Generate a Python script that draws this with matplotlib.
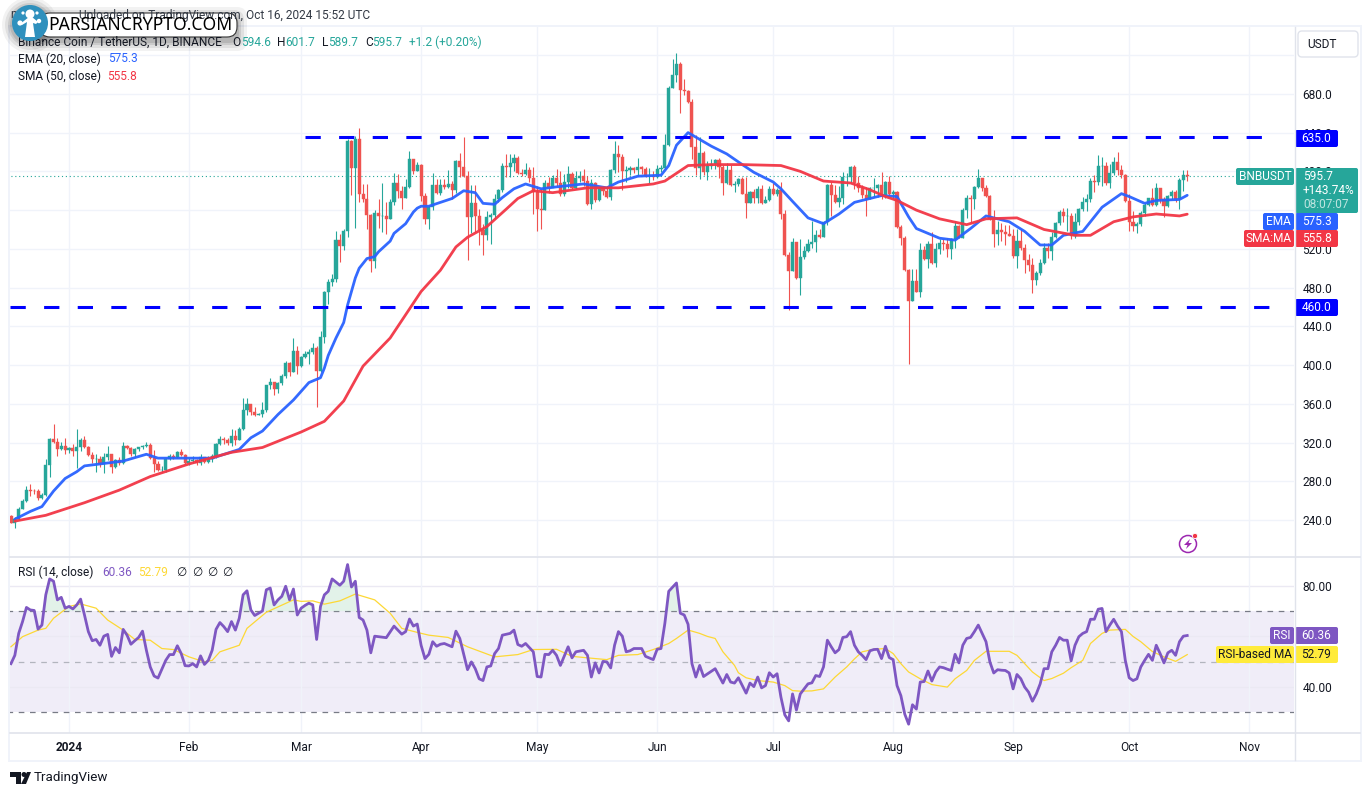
import numpy as np
import matplotlib
matplotlib.use('Agg')
import matplotlib.pyplot as plt
from matplotlib.patches import FancyBboxPatch, Rectangle, Circle, Polygon

plt.rcParams['font.family'] = ['Roboto', 'DejaVu Sans']

# daily candles, index 0 = 17 Dec 2023, each open is the previous close
first_open = 244
closes = [237,241,252,260,271,270.5,270,263,266,297,324,321,313,317,312,314,311,316,323,316,307,303,303,298,305,308,295,302,299,317,
          314,308,313,315,317,318,304,298,292,292,303,306,305,310,307,299,301,302,299,305,300,303,306,319,324,323,320,327,323,334,
          354,360,352,349,350,354,379,383,375,382,389,402,393,415,399,408,411,414,418,394,429,475,486,489,529,523,538,631,603,633,
          577,571,555,507,557,554,554,551,568,588,580,573,584,613,600,607,575,551,563,586,578,586,584,587,581,611,604,595,553,567,
          554,539,534,553,555,571,581,606,605,609,614,598,597,601,593,579,561,560,588,583,593,588,577,589,597,583,593,595,590,566,
          588,570,583,580,574,601,618,615,600,601,603,601,604,602,595,595,594,602,603,627,686,699,711,684,683,672,625,603,619,599,
          606,608,612,605,588,601,586,587,592,577,567,579,573,582,567,570,582,577,581,556,514,497,527,490,512,518,525,527,534,532,
          548,586,576,568,573,594,594,604,588,583,576,571,583,583,586,576,589,577,579,543,531,498,466,487,476,519,510,525,505,520,
          526,525,520,530,544,531,560,572,571,584,593,583,575,551,535,539,537,535,533,513,528,521,509,503,488,495,505,521,518,532,
          547,558,554,554,533,548,561,568,571,590,589,606,606,588,598,610,601,596,569,548,544,546,557,565,572,565,583,571,564,575,
          579,571,591,596,595.7]
highs = [245,243,254,262,275,277,272,272,268,303,325,339,325,321,325,316,319,334,325,327,317,310,308,306,309,317,308,303,305,321,
         318,316,314,316,318,321,320,312,301,296,304,308,308,311,313,308,304,306,303,308,305,306,308,320,327,326,325,334,333,336,
         366,366,360,357,351,362,380,387,383,383,391,404,403,428,420,409,415,417,423,420,435,477,489,494,538,535,540,633,632,636,
         645,587,587,556,560,571,588,568,571,598,597,585,592,621,613,610,608,578,565,598,592,592,592,601,590,612,619,635,600,586,
         586,561,546,559,557,577,582,609,618,618,618,616,602,609,604,605,585,582,591,594,596,602,600,597,606,599,600,600,602,595,
         592,589,585,585,583,602,631,627,618,606,606,604,614,606,604,603,600,607,607,639,688,716,722,713,695,684,675,638,635,621,
         611,613,613,614,607,609,607,590,593,594,594,580,582,585,586,575,585,588,583,589,560,517,531,527,530,523,530,549,539,541,
         549,587,589,586,585,599,598,606,607,595,586,584,584,593,587,599,590,595,581,580,545,533,499,499,499,526,523,528,537,526,
         530,530,531,531,549,545,562,576,576,585,602,593,586,576,560,549,547,545,545,540,540,540,525,515,511,497,510,526,526,537,
         548,560,562,562,557,557,562,574,577,593,596,617,615,610,608,615,620,607,597,577,559,548,559,567,573,583,588,583,574,576,
         581,581,593,601,601.7]
lows = [237,232,240,251,259,265,267,261,262,265,285,320,306,312,308,309,306,294,311,314,306,299,290,295,289,302,289,294,297,298,
        313,306,305,311,313,316,303,290,291,290,290,302,303,304,306,298,297,299,297,297,299,299,300,304,318,319,318,317,318,323,
        333,349,349,348,349,346,352,375,369,371,379,387,389,393,391,398,407,401,412,357,393,423,463,482,486,506,519,532,576,542,
        568,568,540,496,500,542,537,535,551,565,573,561,572,583,597,600,569,546,540,560,577,576,582,583,571,578,594,594,509,536,
        537,524,514,529,525,551,568,579,594,594,600,597,595,596,589,556,538,541,560,578,584,585,575,575,583,582,582,589,585,565,
        561,568,569,576,572,570,598,599,581,589,596,598,595,597,594,588,591,593,599,602,626,686,692,660,679,671,613,596,592,596,
        591,602,602,593,576,587,585,579,585,577,552,567,567,567,566,567,569,576,575,551,513,457,497,489,472,510,517,521,517,531,
        532,545,554,567,563,566,585,588,582,579,572,554,571,574,574,571,573,576,571,542,524,497,401,466,476,470,509,500,504,501,
        515,519,512,510,521,531,531,552,547,561,583,580,574,550,522,524,528,524,533,511,500,519,495,497,474,483,493,504,511,509,
        531,545,548,538,530,531,545,559,559,568,579,586,585,586,583,596,596,593,568,538,538,536,544,554,564,564,564,567,553,563,
        571,568,561,580,589.7]

ema_idx = [1,5,8,11,14,17,19,23,29,35,38,44,52,59,62,65,69,73,77,80,81,82,84,86,87,89,90,92,94,95,98,99,102,104,105,106,108,114,117,120,122,125,127,130,133,137,
           141,148,154,157,162,168,170,172,175,181,185,189,192,197,199,202,206,210,214,218,222,225,229,232,234,240,244,248,252,258,
           262,266,269,272,277,282,287,289,293,296,302,304]
ema_val = [241,249,254,270,283,290,296,298,301,308,304,304,304,313,325,332,349,364,382,387,397,410,428,444,462,490,500,510,512,517,528,536,546,558,562,564,564,572,580,578,567,566,573,582,587,582,
           584,587,583,589,595,596,606,627,640,626,618,607,599,589,582,569,552,546,556,568,572,575,574,553,541,531,529,541,554,548,
           538,524,524,534,538,563,577,574,567,570,571,575.3]
sma_idx = [1,9,19,28,36,46,57,65,75,81,86,91,98,106,111,115,118,123,128,131,135,140,149,157,166,169,175,181,189,199,204,210,217,222,226,229,
           234,240,247,252,260,267,275,279,285,290,296,302,304]
sma_val = [239,245,258,271,285,298,310,315,331,342,363,399,428,476,498,522,532,543,561,572,580,578,583,583,587,590,606,607,607,606,600,590,588,581,574,570,
           560,551,545,551,552,540,534,534,548,553,556,554,555.8]

rsi_idx = [0,1,2,3,4,5,6,7,8,9,10,11,12,13,14,15,16,17,18,19,20,21,22,23,24,25,26,27,28,29,30,31,32,33,34,35,36,37,38,40,41,42,43,44,45,46,47,48,49,50,
           51,52,53,54,55,56,57,58,59,60,61,62,63,64,65,66,67,68,69,70,71,72,73,74,75,76,77,78,79,80,81,82,83,85,86,87,88,89,90,91,92,93,94,95,96,97,99,100,
           101,102,103,104,105,106,107,108,109,110,111,112,114,115,116,118,119,120,121,122,123,124,125,126,127,129,130,131,132,133,135,136,137,138,139,140,141,142,144,145,146,148,149,150,
           151,152,153,154,155,156,157,158,159,160,161,163,164,166,167,168,169,170,172,173,174,175,176,177,178,179,182,184,185,186,187,188,190,191,192,193,194,195,196,197,198,199,200,
           201,202,203,204,206,207,208,209,210,211,212,213,214,215,216,217,218,219,220,221,222,223,224,225,226,227,228,229,230,231,232,233,234,235,236,237,238,239,240,241,242,243,244,245,246,247,248,249,250,
           251,252,253,254,255,256,257,258,259,260,261,262,263,264,265,266,267,268,269,270,271,272,273,274,275,276,277,278,279,280,281,282,283,284,285,286,287,288,289,290,291,292,293,294,295,296,297,298,299,300,301,302,303,304]
rsi_val = [49.2,52.5,61.2,65.9,71.5,70.5,70.3,62.9,64.5,76.5,82.8,81.9,74.5,75.5,71.2,71.9,70.9,72.5,74.8,68.5,61.9,58.3,58.8,56.5,60.1,60.8,52.1,55.6,53.5,62.8,60.5,56.9,58.3,59.6,62.1,54.5,47.9,44.3,43.5,50.5,52.8,52.8,56.3,53.2,48.4,48.3,49.2,47.9,52.3,48.9,
           50.5,54.5,62.8,65.5,63.9,61.9,65.9,62.5,67.2,76.5,78.1,70.5,68.3,69.2,70.1,78.5,79.2,72.5,74.5,75.9,79.9,74.5,78.8,68.5,71.2,72.3,73.2,72.5,58.8,71.9,76.5,77.9,82.8,80.3,81.9,88.5,79.6,81.9,67.5,66.5,62.5,53.5,60.1,59.9,59.7,59.5,64.1,62.5,
           60.9,61.9,66.9,64.1,64.9,56.5,51.2,52.9,57.9,56.1,56.9,57.2,55.9,62.1,59.2,46.8,49.9,47.2,43.2,42.5,47.9,48.3,53.2,55.2,60.5,61.2,62.5,56.8,56.1,57.2,53.9,44.1,43.9,52.9,52.8,54.5,52.5,48.5,55.9,51.5,53.9,54.5,52.5,43.9,
           49.5,45.5,50.1,49.9,47.5,56.5,61.9,60.1,53.9,54.3,55.2,55.2,52.1,50.8,54.9,55.2,65.2,77.9,81.2,69.2,68.5,64.8,49.2,43.9,48.5,44.1,47.2,41.5,44.9,41.9,41.5,43.6,37.5,41.5,40.1,43.9,39.6,40.5,45.6,43.9,45.2,35.9,28.9,
           26.5,37.2,30.8,37.2,41.2,41.6,44.5,44.1,47.9,58.5,55.9,53.5,54.8,59.6,59.9,61.9,56.5,53.9,52.5,50.8,54.3,54.8,54.9,51.2,56.1,51.6,50.8,40.5,36.5,29.2,25.2,32.9,31.2,41.9,42.1,46.3,42.3,45.9,47.9,47.6,47,46.5,52.9,49.5,56.5,59.2,59.6,61.9,64.5,
           61.2,57.9,49.9,45.5,46.8,46.6,46.5,45.5,39.2,44.9,43.2,39.9,37.9,34.3,37.2,41.2,47.2,47.2,53.9,56.5,59.6,58.5,58.5,50.3,56.5,59.9,61.2,61.9,66.8,66.8,70.8,71.1,61.9,64.5,66.8,64.1,61.9,50.5,43.6,42.5,43.2,47.9,50.5,52.9,50.5,56.5,53.2,49.5,53.5,54.5,52.5,57.9,60.1,60.36]
rsi_ma_idx = [0,3,7,9,11,15,18,22,25,29,32,36,39,42,46,50,52,54,59,61,66,73,75,78,81,85,89,94,98,101,105,108,113,118,125,131,135,141,145,149,154,157,162,
              166,170,172,175,176,178,180,182,184,187,188,190,193,197,200,202,204,207,210,213,216,218,220,223,226,228,230,232,235,238,242,244,247,249,252,258,260,262,264,267,269,272,274,277,279,282,284,288,290,292,295,298,300,301,304]
rsi_ma_val = [55.9,59.9,62.5,63.2,67.2,71.9,72.9,71.2,66.5,62.5,58.8,58.5,55.2,54.8,51.9,49.9,50.5,53.9,56.5,63.2,69.6,74.5,73.9,74.1,72.8,74.1,76.8,74.5,69.2,63.2,61.6,60.5,59.6,55.9,51.9,52.8,54.8,54.9,52.1,51.5,50.8,52.5,52.8,
              54.8,57.2,59.2,62.5,62.1,61.2,60,59.2,53.9,48.5,45.6,43.6,42.5,41.9,40.5,38.5,38.3,38.4,39.2,43.9,47.9,51.1,53.9,54.9,55.2,53.2,49.2,45.9,43.2,40.9,39.9,43.2,46.5,50.5,54.1,54.1,52.5,49.2,45.9,42.5,43.3,45.4,47.6,50.5,57.2,61.2,62.5,62.8,60,57.9,54,51.9,50.7,50.1,52.79]

month_idx = [15,46,75,106,136,167,197,228,259,289,320]
month_lbl = ['2024','Feb','Mar','Apr','May','Jun','Jul','Aug','Sep','Oct','Nov']
price_ticks = [240,280,320,360,400,440,480,520,560,600,640,680]
price_grid = price_ticks + [720]
rsi_ticks = [40,80]
rsi_grid = [40,60,80]
support = 460
resistance = 635
last_close = 595.7

GREEN, RED = '#26a69a', '#ef5350'
BLUE, SMA_RED = '#2962ff', '#f23645'
PURPLE, YELLOW = '#7e57c2', '#fdd835'
GRID, BORDER, FRAME = '#f0f3fa', '#e0e3eb', '#f0f3fa'
TXT = '#131722'
W, H = 1372, 796

fig = plt.figure(figsize=(W/100, H/100), dpi=100, facecolor='white')

def rect(l, t, r, b):
    return [l/W, 1-b/H, (r-l)/W, (b-t)/H]

ax = fig.add_axes(rect(10, 27, 1294, 556))
ar = fig.add_axes(rect(10, 557, 1294, 733), sharex=ax)

# ---- candles
n = len(closes)
idx = np.arange(n)
c = np.array(closes, float)
o = np.r_[first_open, c[:-1]]
colors = [GREEN if a >= b else RED for a, b in zip(c, o)]
ax.hlines(price_grid, -1, 340, color=GRID, lw=1, zorder=1)
ax.vlines(month_idx, 0, 900, color=GRID, lw=1, zorder=1)
ax.vlines(idx, lows, highs, color=colors, lw=0.8, zorder=3)
ax.bar(idx, np.abs(c-o), bottom=np.minimum(c, o), width=0.8, color=colors, edgecolor=colors, lw=0.3, zorder=3)
ax.plot(ema_idx, ema_val, color=BLUE, lw=2.0, zorder=4, solid_capstyle='round', solid_joinstyle='round', alpha=0.95)
ax.plot(sma_idx, sma_val, color=SMA_RED, lw=2.0, zorder=4, solid_capstyle='round', solid_joinstyle='round', alpha=0.95)
ax.hlines(last_close, -1, 316.5, color=GREEN, lw=0.8, linestyles=(0, (1, 2.5)), zorder=2)
ax.plot([-0.25, 327.4], [support, support], color='#0000ff', lw=2.2, ls=(0, (5, 6)), zorder=5)
ax.plot([76, 327.4], [resistance, resistance], color='#0000ff', lw=2.2, ls=(0, (5, 6)), zorder=5)
ax.set_xlim(-0.25, 331.6)
ax.set_ylim(203, 749)
ax.yaxis.tick_right()
ax.set_yticks(price_ticks, [f'{v:.1f}' for v in price_ticks])
ax.tick_params(axis='y', length=0, pad=6, labelsize=8.6, labelcolor=TXT)
ax.tick_params(axis='x', length=0, labelbottom=False)
for s in ax.spines.values():
    s.set_visible(False)

# ---- rsi pane
ar.axhspan(30, 70, color='#f0edf8', lw=0, zorder=0)
ar.hlines(rsi_grid, -1, 340, color='#ebe9f3', lw=1, zorder=1)
ar.vlines(month_idx, 0, 100, color=GRID, lw=1, zorder=1)
for lev, col in [(70, '#787b86'), (50, '#b2b5be'), (30, '#787b86')]:
    ar.hlines(lev, -1, 340, color=col, lw=0.9, linestyles=(0, (4.5, 4.5)), zorder=2)
ar.fill_between(rsi_idx, 70, rsi_val, where=np.array(rsi_val) > 70, interpolate=True, color='#bfe3d0', alpha=0.45, lw=0, zorder=2)
ar.plot(rsi_ma_idx, rsi_ma_val, color=YELLOW, lw=0.9, zorder=3)
ar.plot(rsi_idx, rsi_val, color=PURPLE, lw=2.0, zorder=4)
ar.set_ylim(21.7, 91.5)
ar.yaxis.tick_right()
ar.set_yticks(rsi_ticks, [f'{v:.2f}' for v in rsi_ticks])
ar.set_xticks(month_idx, month_lbl)
ar.get_xticklabels()[0].set_fontweight('bold')
ar.tick_params(axis='y', length=0, pad=6, labelsize=8.6, labelcolor=TXT)
ar.tick_params(axis='x', length=0, pad=6, labelsize=8.6, labelcolor=TXT)
for s in ar.spines.values():
    s.set_visible(False)

# ---- overlay in pixel coords: frame, labels, watermark
ov = fig.add_axes([0, 0, 1, 1], zorder=10)
ov.set_xlim(0, W)
ov.set_ylim(H, 0)
ov.axis('off')

def box(l, t, r, b, col, rad=2, **kw):
    ov.add_patch(FancyBboxPatch((l+rad, t+rad), r-l-2*rad, b-t-2*rad, boxstyle=f'round,pad={rad},rounding_size={rad}',
                                fc=col, ec=kw.pop('ec', 'none'), lw=kw.pop('lw', 0), **kw))

def txt(x, y, s, color=TXT, size=8.6, ha='left', **kw):
    ov.text(x, y, s, color=color, fontsize=size, ha=ha, va='center', **kw)

for r in [(8, 25, 1362, 27), (8, 25, 10, 762), (1360, 25, 1362, 762), (8, 760, 1362, 762)]:
    ov.add_patch(Rectangle((r[0], r[1]), r[2]-r[0], r[3]-r[1], fc=FRAME, ec='none'))
ov.plot([10, 1360], [556.5, 556.5], color=BORDER, lw=1.2)
ov.plot([10, 1360], [733, 733], color=BORDER, lw=1.2)
ov.plot([1294.5, 1294.5], [27, 760], color=BORDER, lw=1)

box(1298, 31, 1358, 57, 'white', rad=4, ec=BORDER, lw=1)
txt(1307, 44, 'USDT', size=8.6)

box(1295, 130, 1338, 147, '#0000ff')
txt(1316.5, 138.5, '635.0', 'white', ha='center')
box(1295, 299, 1338, 316, '#0000ff')
txt(1316.5, 307.5, '460.0', 'white', ha='center')
box(1236, 168, 1294, 185, GREEN)
txt(1265, 176.5, 'BNBUSDT', 'white', ha='center')
box(1295, 168, 1358, 213, GREEN)
txt(1303, 176.5, '595.7', 'white')
txt(1303, 190.5, '+143.74%', 'white')
txt(1303, 204.5, '08:07:07', '#bfe5e0')
box(1263, 213, 1294, 230, BLUE)
txt(1278.5, 221.5, 'EMA', 'white', ha='center')
box(1295, 213, 1338, 230, BLUE)
txt(1316.5, 221.5, '575.3', 'white', ha='center')
box(1244, 230, 1294, 247, SMA_RED)
txt(1269, 238.5, 'SMA:MA', 'white', ha='center')
box(1295, 230, 1338, 247, SMA_RED)
txt(1316.5, 238.5, '555.8', 'white', ha='center')
box(1270, 627, 1294, 644, PURPLE)
txt(1282, 635.5, 'RSI', 'white', ha='center')
box(1295, 627, 1338, 644, PURPLE)
txt(1316.5, 635.5, '60.36', 'white', ha='center')
box(1216, 646, 1294, 663, '#ffeb3b')
txt(1255, 654.5, 'RSI-based MA', TXT, ha='center')
box(1295, 646, 1338, 663, '#ffeb3b')
txt(1316.5, 654.5, '52.79', TXT, ha='center')

# legend rows
txt(10, 15, 'm', color='#333a45')
txt(370, 15, 'Uploaded on TradingView.com, Oct 16, 2024 15:52 UTC', ha='right', color='#333a45')
txt(18, 42, 'Binance Coin / TetherUS, 1D, BINANCE')
for x, lab, xv, val in [(232, 'O', 241, '594.6'), (277, 'H', 285, '601.7'), (322, 'L', 328, '589.7'), (365, 'C', 372, '595.7')]:
    txt(x, 42, lab)
    txt(xv, 42, val, GREEN)
txt(409, 42, '+1.2 (+0.20%)', GREEN)
txt(18, 59, 'EMA (20, close)')
txt(108, 59, '575.3', BLUE)
txt(18, 76, 'SMA (50, close)')
txt(107, 76, '555.8', SMA_RED)
txt(18, 572, 'RSI (14, close)')
txt(102, 572, '60.36', PURPLE)
txt(138, 572, '52.79', YELLOW)
for x in [176, 192, 207, 222]:
    txt(x, 572, '\u2205')

# watermark pill
for grow, a in [(10, 0.05), (7, 0.07), (4, 0.09), (2, 0.10)]:
    box(40-grow, 13-grow+4, 237+grow, 37+grow+4, 'black', rad=10, alpha=a)
    ov.add_patch(Circle((30, 25), 18+grow, fc='black', ec='none', alpha=a))
box(40, 13, 237, 37, 'white', rad=10, ec='#333333', lw=0.8)
txt(48, 25, 'PARSIANCRYPTO.COM', 'black', size=12.6, fontweight='medium', family=['Noto Sans', 'DejaVu Sans'])
ov.add_patch(Circle((30, 23), 18, fc='#2f90bd', ec='none', zorder=5))
for cx, cy, cr in [(30, 14, 4.5), (20, 23, 2.6), (39, 21, 2.2), (37, 13, 1.6), (23, 13, 1.6)]:
    ov.add_patch(Circle((cx, cy), cr, fc='white', ec='none', zorder=6))
ov.add_patch(Polygon([(25, 37), (27, 22), (22, 25), (20, 24), (29, 17), (32, 17), (38, 22), (36, 24), (33, 23), (35, 37)], fc='white', ec='none', zorder=6))

# snap icon
ov.add_patch(Circle((1188, 544), 8.5, fc='white', ec='#9c27b0', lw=1.1))
ov.add_patch(Polygon([(1190, 539), (1184, 545), (1187.5, 545), (1186, 549), (1192, 543), (1188.5, 543)], fc='#9c27b0', ec='none'))
ov.add_patch(Circle((1195, 536), 2.6, fc='#f23645', ec='white', lw=0.6))

# TradingView mark
ov.add_patch(Polygon([(10, 772), (21, 772), (21, 784), (16, 784), (16, 777), (10, 777)], fc=TXT, ec='none'))
ov.add_patch(Circle((24, 774.5), 2.5, fc=TXT, ec='none'))
ov.add_patch(Polygon([(27, 772), (31, 772), (26, 784), (21, 784)], fc=TXT, ec='none'))
txt(34, 778, 'TradingView', TXT, size=9.6)

fig.savefig('out.png', dpi=100)
